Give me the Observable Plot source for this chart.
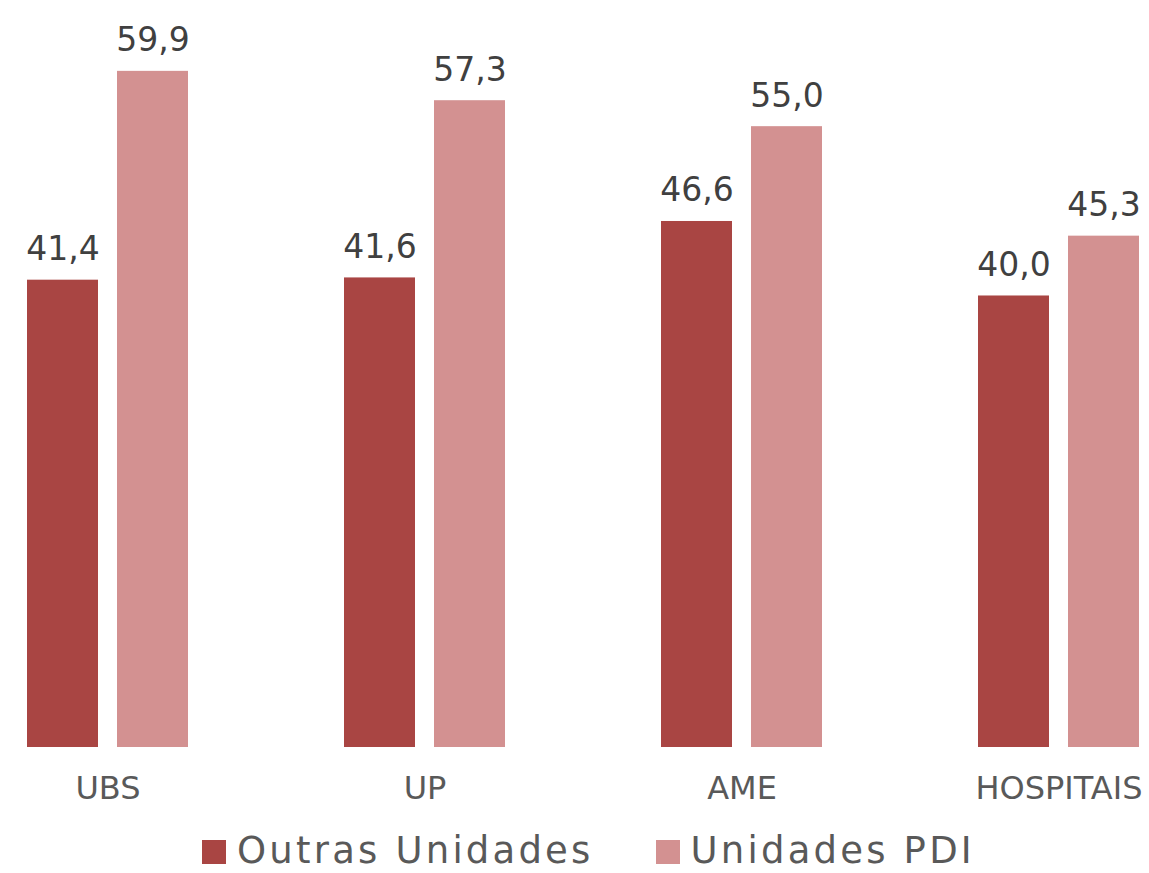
<!DOCTYPE html>
<html>
<head>
<meta charset="utf-8">
<script src="https://cdn.jsdelivr.net/npm/d3@7"></script>
<script src="https://cdn.jsdelivr.net/npm/@observablehq/plot@0.6"></script>
<style>
  html, body { margin: 0; padding: 0; background: #ffffff; }
  body { width: 1149px; font-family: "DejaVu Sans", sans-serif; }
  #legend { display: flex; justify-content: center; align-items: center; margin-top: 14px; padding-left: 28px; height: 43px; }
  .item { display: flex; align-items: center; }
  .sw { width: 24px; height: 24px; margin-right: 11px; margin-top: 2px; }
  .lbl { font-size: 37px; letter-spacing: 3.2px; color: #595959; line-height: 43px; }
</style>
</head>
<body>
<div id="chart"></div>
<div id="legend"></div>
<script>
const categories = ["UBS", "UP", "AME", "HOSPITAIS"];
const outrasValues = [41.4, 41.6, 46.6, 40.0];
const pdiValues = [59.9, 57.3, 55.0, 45.3];
const seriesNames = ["Outras Unidades", "Unidades PDI"];
const seriesColors = ["#A94543", "#D39191"];

const outras = categories.map((c, i) => ({cat: c, v: outrasValues[i], s: seriesNames[0]}));
const pdi = categories.map((c, i) => ({cat: c, v: pdiValues[i], s: seriesNames[1]}));
const fmt = v => v.toFixed(1).replace(".", ",");

const chart = Plot.plot({
  width: 1149,
  height: 815,
  marginTop: 0,
  marginBottom: 68,
  marginLeft: 0,
  marginRight: 0,
  style: {fontFamily: "DejaVu Sans, sans-serif", background: "#ffffff"},
  x: {domain: categories, range: [-51, 1217], padding: 0, label: null},
  y: {domain: [0, 66], range: [747, 2], axis: null},
  color: {domain: seriesNames, range: seriesColors},
  marks: [
    Plot.axisX({tickSize: 0, tickPadding: 29, fontSize: 32, color: "#595959", label: null}),
    Plot.barY(outras, {x: "cat", y: "v", fill: "s", insetLeft: 123, insetRight: 123, dx: -45}),
    Plot.barY(pdi, {x: "cat", y: "v", fill: "s", insetLeft: 123, insetRight: 123, dx: 45}),
    Plot.text(outras, {x: "cat", y: "v", text: d => fmt(d.v), dx: -45, dy: -20, lineAnchor: "bottom", fontSize: 33, fill: "#404040"}),
    Plot.text(pdi, {x: "cat", y: "v", text: d => fmt(d.v), dx: 45, dy: -20, lineAnchor: "bottom", fontSize: 33, fill: "#404040"})
  ]
});
document.getElementById("chart").appendChild(chart);

const legend = document.getElementById("legend");
seriesNames.forEach((name, i) => {
  const item = document.createElement("div");
  item.className = "item";
  if (i > 0) item.style.marginLeft = "62px";
  const sw = document.createElement("div");
  sw.className = "sw";
  sw.style.background = seriesColors[i];
  const lbl = document.createElement("span");
  lbl.className = "lbl";
  lbl.textContent = name;
  item.appendChild(sw);
  item.appendChild(lbl);
  legend.appendChild(item);
});
</script>
</body>
</html>
